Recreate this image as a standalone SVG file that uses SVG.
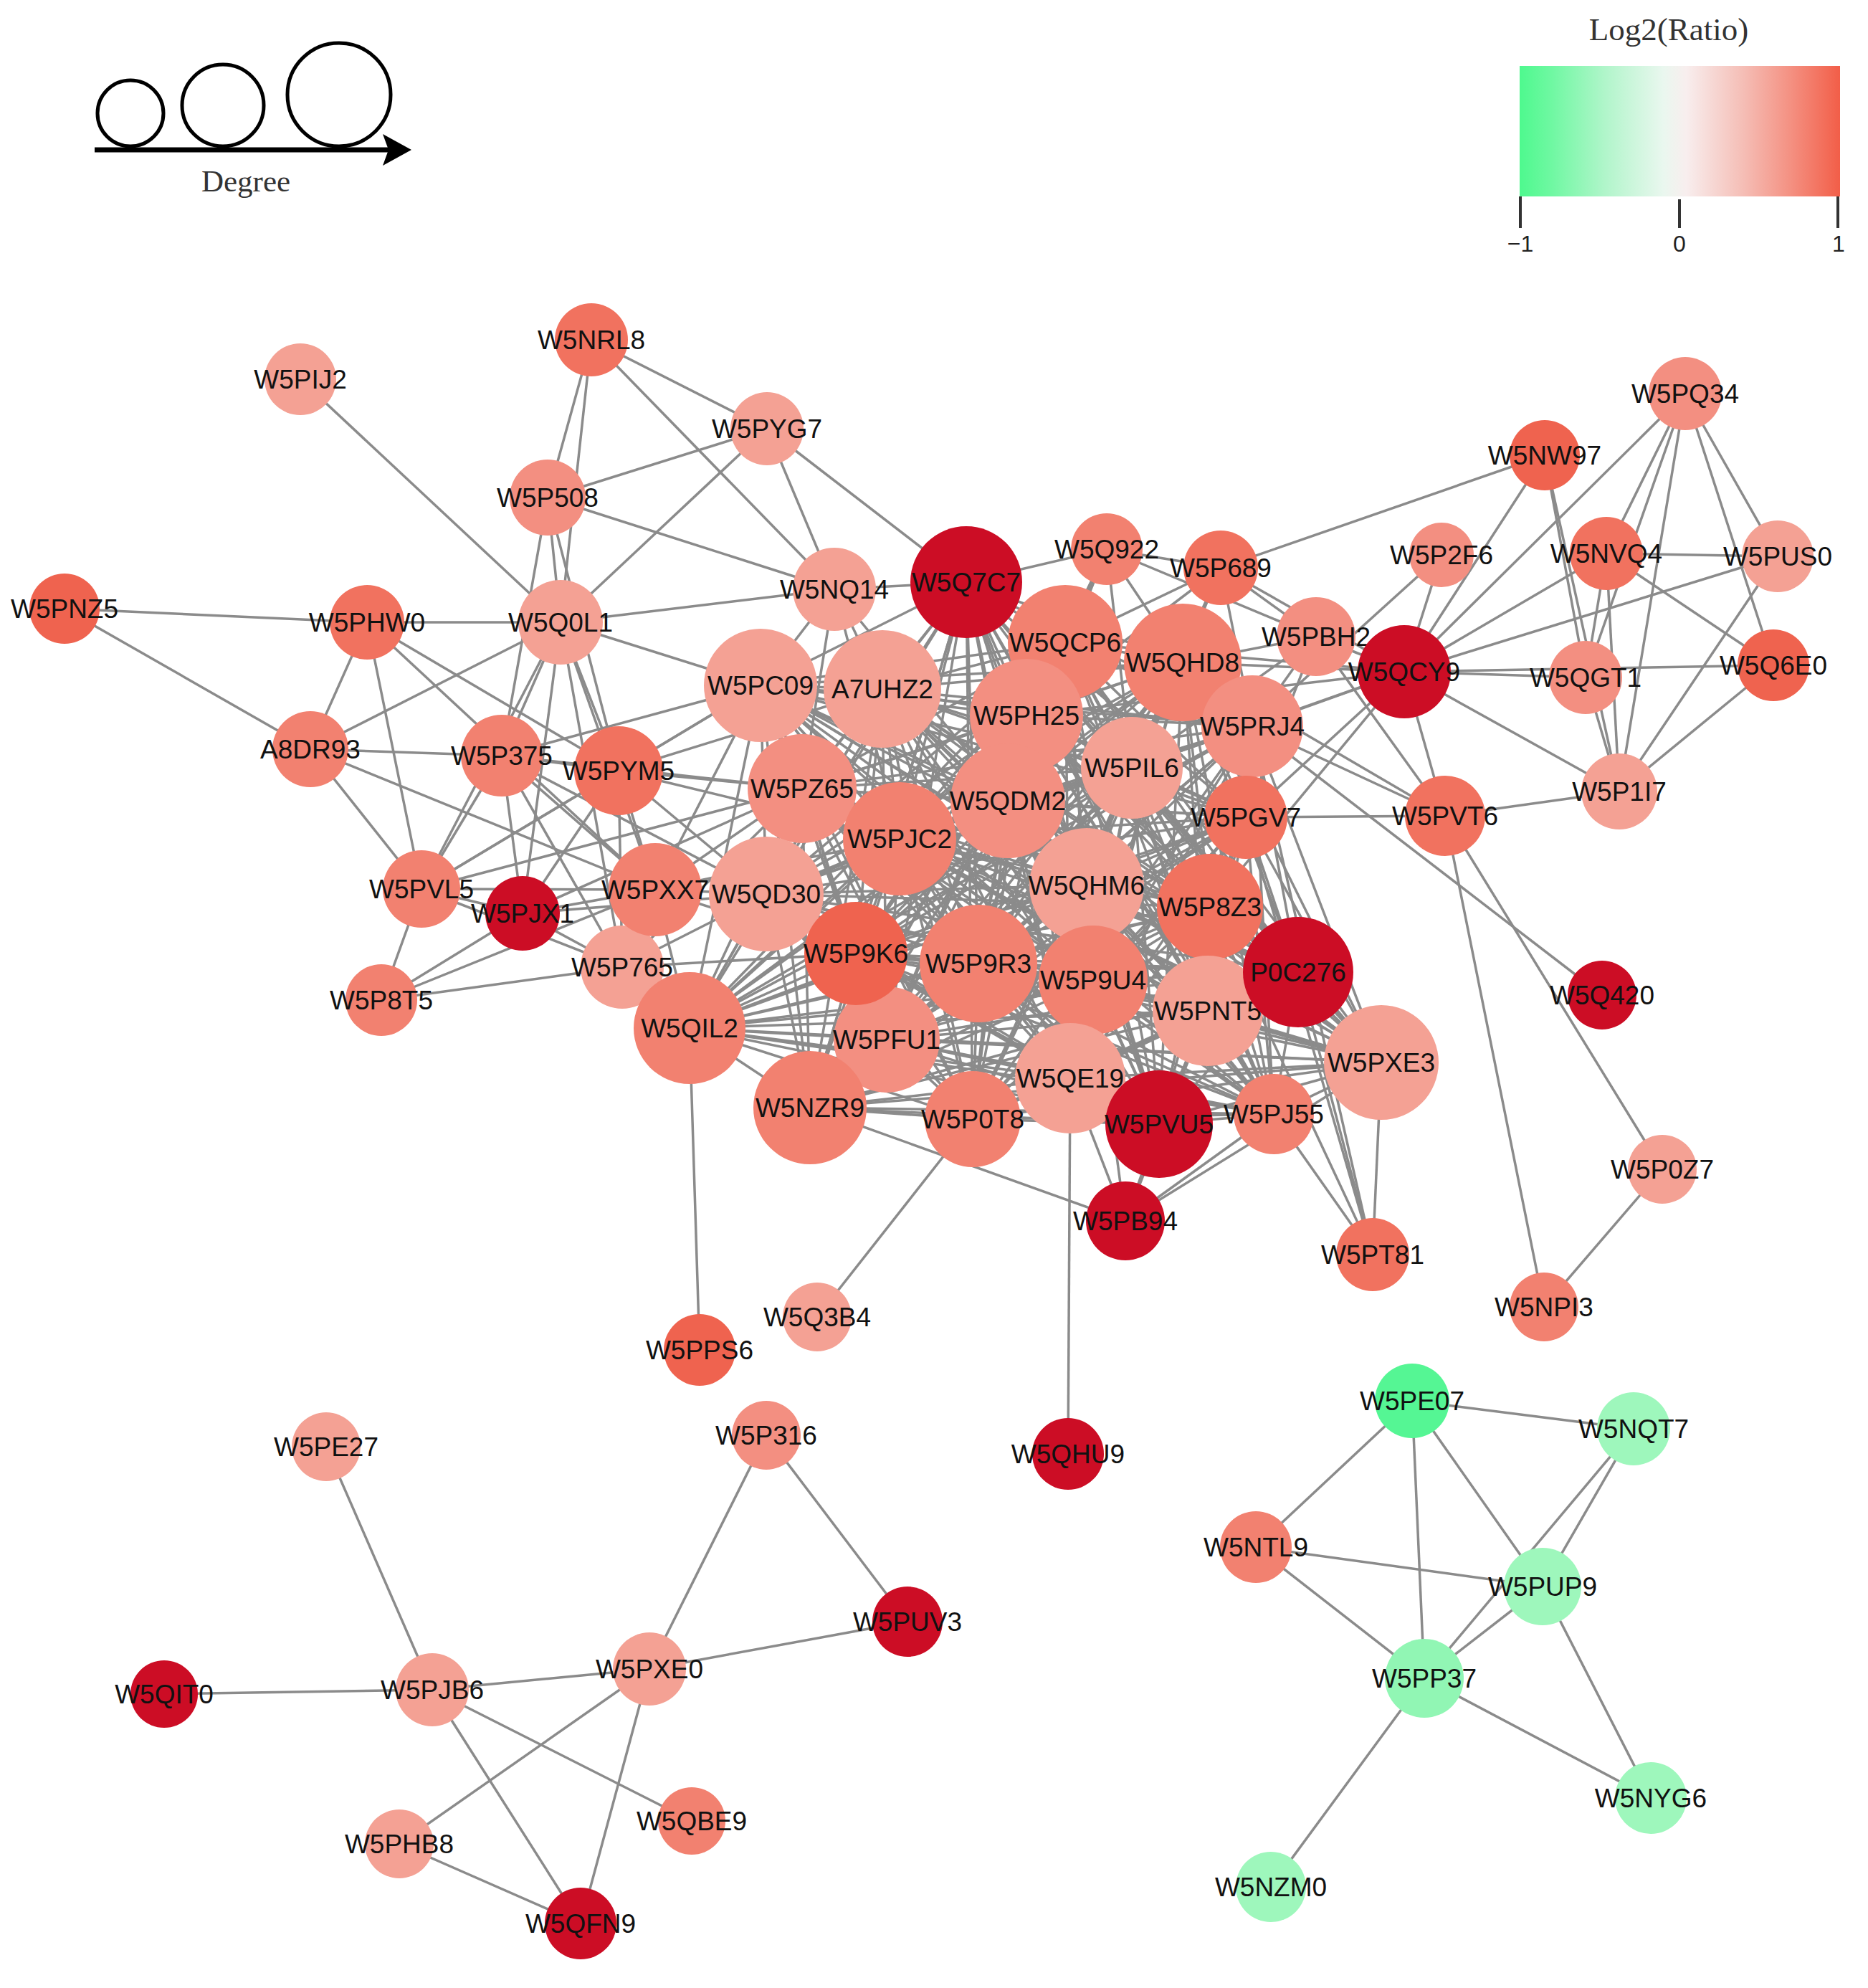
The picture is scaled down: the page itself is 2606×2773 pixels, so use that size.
<svg xmlns="http://www.w3.org/2000/svg" width="2606" height="2773" viewBox="0 0 2606 2773">
<style>
.e path{stroke:#8b8b8b;stroke-width:3.5;fill:none}
.n text{font-family:"Liberation Sans",Arial,sans-serif;font-size:37px;text-anchor:middle;fill:#111}
.dr{fill:#cc0d25}.ro{fill:#ef634f}.or{fill:#f1725f}.sa{fill:#f28170}.ls{fill:#f38f81}.lp{fill:#f4a194}
.g1{fill:#55f694}.g2{fill:#9ef7bc}.g3{fill:#91f6b4}
.serif{font-family:"Liberation Serif","Times New Roman",serif;fill:#333}
</style>
<defs>
<linearGradient id="lg" x1="0" y1="0" x2="1" y2="0">
<stop offset="0" stop-color="#4ef98e"/><stop offset="0.1" stop-color="#6ff8a2"/><stop offset="0.27" stop-color="#b2f5cb"/><stop offset="0.45" stop-color="#eaf7ef"/><stop offset="0.52" stop-color="#f8eeee"/><stop offset="0.7" stop-color="#f5bdb5"/><stop offset="0.85" stop-color="#f48f80"/><stop offset="1" stop-color="#f25e48"/>
</linearGradient>
<marker id="arr" viewBox="0 0 40 44" refX="14" refY="22" markerWidth="40" markerHeight="44" markerUnits="userSpaceOnUse" orient="auto"><path d="M0 0L40 22L0 44L8 22Z" fill="#000"/></marker>
</defs>
<rect width="2606" height="2773" fill="#fff"/>
<g id="legend-degree">
<circle cx="182" cy="158" r="46" fill="none" stroke="#000" stroke-width="5"/>
<circle cx="311" cy="147" r="57" fill="none" stroke="#000" stroke-width="5"/>
<circle cx="473" cy="132" r="72" fill="none" stroke="#000" stroke-width="5"/>
<line x1="132" y1="209" x2="548" y2="209" stroke="#000" stroke-width="7" marker-end="url(#arr)"/>
<text x="343" y="267" class="serif" font-size="43" text-anchor="middle">Degree</text>
</g>
<g id="legend-color">
<text x="2328" y="56" class="serif" font-size="45" text-anchor="middle">Log2(Ratio)</text>
<rect x="2120" y="92" width="447" height="182" fill="url(#lg)"/>
<g stroke="#333" stroke-width="4"><line x1="2121" y1="274" x2="2121" y2="318"/><line x1="2343" y1="278" x2="2343" y2="318"/><line x1="2564" y1="274" x2="2564" y2="318"/></g>
<g font-family="Liberation Sans,Arial,sans-serif" font-size="32" fill="#222" text-anchor="middle"><text x="2121" y="351">−1</text><text x="2343" y="351">0</text><text x="2565" y="351">1</text></g>
</g>
<g id="edges" class="e">
<path d="M1348 812L1486 896"/><path d="M1348 812L1650 924"/><path d="M1348 812L1061 956"/><path d="M1348 812L1231 961"/><path d="M1348 812L1432 998"/><path d="M1348 812L1747 1013"/><path d="M1348 812L1579 1071"/><path d="M1348 812L1119 1100"/><path d="M1348 812L1406 1117"/><path d="M1348 812L1738 1140"/><path d="M1348 812L1255 1170"/><path d="M1348 812L1069 1247"/><path d="M1348 812L1516 1235"/><path d="M1348 812L1688 1265"/><path d="M1348 812L1194 1330"/><path d="M1348 812L1365 1344"/><path d="M1348 812L1525 1367"/><path d="M1348 812L1811 1356"/><path d="M1348 812L1685 1410"/><path d="M1348 812L962 1434"/><path d="M1348 812L1237 1450"/><path d="M1348 812L1493 1504"/><path d="M1348 812L1927 1482"/><path d="M1348 812L1130 1545"/><path d="M1348 812L1357 1561"/><path d="M1348 812L1617 1568"/><path d="M1348 812L1777 1554"/>
<path d="M1486 896L1650 924"/><path d="M1486 896L1061 956"/><path d="M1486 896L1231 961"/><path d="M1486 896L1432 998"/><path d="M1486 896L1747 1013"/><path d="M1486 896L1579 1071"/><path d="M1486 896L1119 1100"/><path d="M1486 896L1406 1117"/><path d="M1486 896L1738 1140"/><path d="M1486 896L1255 1170"/><path d="M1486 896L1069 1247"/><path d="M1486 896L1516 1235"/><path d="M1486 896L1688 1265"/><path d="M1486 896L1194 1330"/><path d="M1486 896L1365 1344"/><path d="M1486 896L1525 1367"/><path d="M1486 896L1811 1356"/><path d="M1486 896L1685 1410"/><path d="M1486 896L962 1434"/><path d="M1486 896L1237 1450"/><path d="M1486 896L1493 1504"/><path d="M1486 896L1927 1482"/><path d="M1486 896L1130 1545"/><path d="M1486 896L1357 1561"/><path d="M1486 896L1617 1568"/><path d="M1486 896L1777 1554"/>
<path d="M1650 924L1061 956"/><path d="M1650 924L1231 961"/><path d="M1650 924L1432 998"/><path d="M1650 924L1747 1013"/><path d="M1650 924L1579 1071"/><path d="M1650 924L1119 1100"/><path d="M1650 924L1406 1117"/><path d="M1650 924L1738 1140"/><path d="M1650 924L1255 1170"/><path d="M1650 924L1069 1247"/><path d="M1650 924L1516 1235"/><path d="M1650 924L1688 1265"/><path d="M1650 924L1194 1330"/><path d="M1650 924L1365 1344"/><path d="M1650 924L1525 1367"/><path d="M1650 924L1811 1356"/><path d="M1650 924L1685 1410"/><path d="M1650 924L962 1434"/><path d="M1650 924L1237 1450"/><path d="M1650 924L1493 1504"/><path d="M1650 924L1927 1482"/><path d="M1650 924L1130 1545"/><path d="M1650 924L1357 1561"/><path d="M1650 924L1617 1568"/><path d="M1650 924L1777 1554"/>
<path d="M1061 956L1231 961"/><path d="M1061 956L1432 998"/><path d="M1061 956L1747 1013"/><path d="M1061 956L1579 1071"/><path d="M1061 956L1119 1100"/><path d="M1061 956L1406 1117"/><path d="M1061 956L1738 1140"/><path d="M1061 956L1255 1170"/><path d="M1061 956L1069 1247"/><path d="M1061 956L1516 1235"/><path d="M1061 956L1688 1265"/><path d="M1061 956L1194 1330"/><path d="M1061 956L1365 1344"/><path d="M1061 956L1525 1367"/><path d="M1061 956L1811 1356"/><path d="M1061 956L1685 1410"/><path d="M1061 956L962 1434"/><path d="M1061 956L1237 1450"/><path d="M1061 956L1493 1504"/><path d="M1061 956L1927 1482"/><path d="M1061 956L1130 1545"/><path d="M1061 956L1357 1561"/><path d="M1061 956L1617 1568"/><path d="M1061 956L1777 1554"/>
<path d="M1231 961L1432 998"/><path d="M1231 961L1747 1013"/><path d="M1231 961L1579 1071"/><path d="M1231 961L1119 1100"/><path d="M1231 961L1406 1117"/><path d="M1231 961L1738 1140"/><path d="M1231 961L1255 1170"/><path d="M1231 961L1069 1247"/><path d="M1231 961L1516 1235"/><path d="M1231 961L1688 1265"/><path d="M1231 961L1194 1330"/><path d="M1231 961L1365 1344"/><path d="M1231 961L1525 1367"/><path d="M1231 961L1811 1356"/><path d="M1231 961L1685 1410"/><path d="M1231 961L962 1434"/><path d="M1231 961L1237 1450"/><path d="M1231 961L1493 1504"/><path d="M1231 961L1927 1482"/><path d="M1231 961L1130 1545"/><path d="M1231 961L1357 1561"/><path d="M1231 961L1617 1568"/><path d="M1231 961L1777 1554"/>
<path d="M1432 998L1747 1013"/><path d="M1432 998L1579 1071"/><path d="M1432 998L1119 1100"/><path d="M1432 998L1406 1117"/><path d="M1432 998L1738 1140"/><path d="M1432 998L1255 1170"/><path d="M1432 998L1069 1247"/><path d="M1432 998L1516 1235"/><path d="M1432 998L1688 1265"/><path d="M1432 998L1194 1330"/><path d="M1432 998L1365 1344"/><path d="M1432 998L1525 1367"/><path d="M1432 998L1811 1356"/><path d="M1432 998L1685 1410"/><path d="M1432 998L962 1434"/><path d="M1432 998L1237 1450"/><path d="M1432 998L1493 1504"/><path d="M1432 998L1927 1482"/><path d="M1432 998L1130 1545"/><path d="M1432 998L1357 1561"/><path d="M1432 998L1617 1568"/><path d="M1432 998L1777 1554"/>
<path d="M1747 1013L1579 1071"/><path d="M1747 1013L1119 1100"/><path d="M1747 1013L1406 1117"/><path d="M1747 1013L1738 1140"/><path d="M1747 1013L1255 1170"/><path d="M1747 1013L1069 1247"/><path d="M1747 1013L1516 1235"/><path d="M1747 1013L1688 1265"/><path d="M1747 1013L1194 1330"/><path d="M1747 1013L1365 1344"/><path d="M1747 1013L1525 1367"/><path d="M1747 1013L1811 1356"/><path d="M1747 1013L1685 1410"/><path d="M1747 1013L962 1434"/><path d="M1747 1013L1237 1450"/><path d="M1747 1013L1493 1504"/><path d="M1747 1013L1927 1482"/><path d="M1747 1013L1130 1545"/><path d="M1747 1013L1357 1561"/><path d="M1747 1013L1617 1568"/><path d="M1747 1013L1777 1554"/>
<path d="M1579 1071L1119 1100"/><path d="M1579 1071L1406 1117"/><path d="M1579 1071L1738 1140"/><path d="M1579 1071L1255 1170"/><path d="M1579 1071L1069 1247"/><path d="M1579 1071L1516 1235"/><path d="M1579 1071L1688 1265"/><path d="M1579 1071L1194 1330"/><path d="M1579 1071L1365 1344"/><path d="M1579 1071L1525 1367"/><path d="M1579 1071L1811 1356"/><path d="M1579 1071L1685 1410"/><path d="M1579 1071L962 1434"/><path d="M1579 1071L1237 1450"/><path d="M1579 1071L1493 1504"/><path d="M1579 1071L1927 1482"/><path d="M1579 1071L1130 1545"/><path d="M1579 1071L1357 1561"/><path d="M1579 1071L1617 1568"/><path d="M1579 1071L1777 1554"/>
<path d="M1119 1100L1406 1117"/><path d="M1119 1100L1738 1140"/><path d="M1119 1100L1255 1170"/><path d="M1119 1100L1069 1247"/><path d="M1119 1100L1516 1235"/><path d="M1119 1100L1688 1265"/><path d="M1119 1100L1194 1330"/><path d="M1119 1100L1365 1344"/><path d="M1119 1100L1525 1367"/><path d="M1119 1100L1811 1356"/><path d="M1119 1100L1685 1410"/><path d="M1119 1100L962 1434"/><path d="M1119 1100L1237 1450"/><path d="M1119 1100L1493 1504"/><path d="M1119 1100L1927 1482"/><path d="M1119 1100L1130 1545"/><path d="M1119 1100L1357 1561"/><path d="M1119 1100L1617 1568"/><path d="M1119 1100L1777 1554"/>
<path d="M1406 1117L1738 1140"/><path d="M1406 1117L1255 1170"/><path d="M1406 1117L1069 1247"/><path d="M1406 1117L1516 1235"/><path d="M1406 1117L1688 1265"/><path d="M1406 1117L1194 1330"/><path d="M1406 1117L1365 1344"/><path d="M1406 1117L1525 1367"/><path d="M1406 1117L1811 1356"/><path d="M1406 1117L1685 1410"/><path d="M1406 1117L962 1434"/><path d="M1406 1117L1237 1450"/><path d="M1406 1117L1493 1504"/><path d="M1406 1117L1927 1482"/><path d="M1406 1117L1130 1545"/><path d="M1406 1117L1357 1561"/><path d="M1406 1117L1617 1568"/><path d="M1406 1117L1777 1554"/>
<path d="M1738 1140L1255 1170"/><path d="M1738 1140L1069 1247"/><path d="M1738 1140L1516 1235"/><path d="M1738 1140L1688 1265"/><path d="M1738 1140L1194 1330"/><path d="M1738 1140L1365 1344"/><path d="M1738 1140L1525 1367"/><path d="M1738 1140L1811 1356"/><path d="M1738 1140L1685 1410"/><path d="M1738 1140L962 1434"/><path d="M1738 1140L1237 1450"/><path d="M1738 1140L1493 1504"/><path d="M1738 1140L1927 1482"/><path d="M1738 1140L1130 1545"/><path d="M1738 1140L1357 1561"/><path d="M1738 1140L1617 1568"/><path d="M1738 1140L1777 1554"/>
<path d="M1255 1170L1069 1247"/><path d="M1255 1170L1516 1235"/><path d="M1255 1170L1688 1265"/><path d="M1255 1170L1194 1330"/><path d="M1255 1170L1365 1344"/><path d="M1255 1170L1525 1367"/><path d="M1255 1170L1811 1356"/><path d="M1255 1170L1685 1410"/><path d="M1255 1170L962 1434"/><path d="M1255 1170L1237 1450"/><path d="M1255 1170L1493 1504"/><path d="M1255 1170L1927 1482"/><path d="M1255 1170L1130 1545"/><path d="M1255 1170L1357 1561"/><path d="M1255 1170L1617 1568"/><path d="M1255 1170L1777 1554"/>
<path d="M1069 1247L1516 1235"/><path d="M1069 1247L1688 1265"/><path d="M1069 1247L1194 1330"/><path d="M1069 1247L1365 1344"/><path d="M1069 1247L1525 1367"/><path d="M1069 1247L1811 1356"/><path d="M1069 1247L1685 1410"/><path d="M1069 1247L962 1434"/><path d="M1069 1247L1237 1450"/><path d="M1069 1247L1493 1504"/><path d="M1069 1247L1927 1482"/><path d="M1069 1247L1130 1545"/><path d="M1069 1247L1357 1561"/><path d="M1069 1247L1617 1568"/><path d="M1069 1247L1777 1554"/>
<path d="M1516 1235L1688 1265"/><path d="M1516 1235L1194 1330"/><path d="M1516 1235L1365 1344"/><path d="M1516 1235L1525 1367"/><path d="M1516 1235L1811 1356"/><path d="M1516 1235L1685 1410"/><path d="M1516 1235L962 1434"/><path d="M1516 1235L1237 1450"/><path d="M1516 1235L1493 1504"/><path d="M1516 1235L1927 1482"/><path d="M1516 1235L1130 1545"/><path d="M1516 1235L1357 1561"/><path d="M1516 1235L1617 1568"/><path d="M1516 1235L1777 1554"/>
<path d="M1688 1265L1194 1330"/><path d="M1688 1265L1365 1344"/><path d="M1688 1265L1525 1367"/><path d="M1688 1265L1811 1356"/><path d="M1688 1265L1685 1410"/><path d="M1688 1265L962 1434"/><path d="M1688 1265L1237 1450"/><path d="M1688 1265L1493 1504"/><path d="M1688 1265L1927 1482"/><path d="M1688 1265L1130 1545"/><path d="M1688 1265L1357 1561"/><path d="M1688 1265L1617 1568"/><path d="M1688 1265L1777 1554"/>
<path d="M1194 1330L1365 1344"/><path d="M1194 1330L1525 1367"/><path d="M1194 1330L1811 1356"/><path d="M1194 1330L1685 1410"/><path d="M1194 1330L962 1434"/><path d="M1194 1330L1237 1450"/><path d="M1194 1330L1493 1504"/><path d="M1194 1330L1927 1482"/><path d="M1194 1330L1130 1545"/><path d="M1194 1330L1357 1561"/><path d="M1194 1330L1617 1568"/><path d="M1194 1330L1777 1554"/>
<path d="M1365 1344L1525 1367"/><path d="M1365 1344L1811 1356"/><path d="M1365 1344L1685 1410"/><path d="M1365 1344L962 1434"/><path d="M1365 1344L1237 1450"/><path d="M1365 1344L1493 1504"/><path d="M1365 1344L1927 1482"/><path d="M1365 1344L1130 1545"/><path d="M1365 1344L1357 1561"/><path d="M1365 1344L1617 1568"/><path d="M1365 1344L1777 1554"/>
<path d="M1525 1367L1811 1356"/><path d="M1525 1367L1685 1410"/><path d="M1525 1367L962 1434"/><path d="M1525 1367L1237 1450"/><path d="M1525 1367L1493 1504"/><path d="M1525 1367L1927 1482"/><path d="M1525 1367L1130 1545"/><path d="M1525 1367L1357 1561"/><path d="M1525 1367L1617 1568"/><path d="M1525 1367L1777 1554"/>
<path d="M1811 1356L1685 1410"/><path d="M1811 1356L962 1434"/><path d="M1811 1356L1237 1450"/><path d="M1811 1356L1493 1504"/><path d="M1811 1356L1927 1482"/><path d="M1811 1356L1130 1545"/><path d="M1811 1356L1357 1561"/><path d="M1811 1356L1617 1568"/><path d="M1811 1356L1777 1554"/>
<path d="M1685 1410L962 1434"/><path d="M1685 1410L1237 1450"/><path d="M1685 1410L1493 1504"/><path d="M1685 1410L1927 1482"/><path d="M1685 1410L1130 1545"/><path d="M1685 1410L1357 1561"/><path d="M1685 1410L1617 1568"/><path d="M1685 1410L1777 1554"/>
<path d="M962 1434L1237 1450"/><path d="M962 1434L1493 1504"/><path d="M962 1434L1927 1482"/><path d="M962 1434L1130 1545"/><path d="M962 1434L1357 1561"/><path d="M962 1434L1617 1568"/><path d="M962 1434L1777 1554"/>
<path d="M1237 1450L1493 1504"/><path d="M1237 1450L1927 1482"/><path d="M1237 1450L1130 1545"/><path d="M1237 1450L1357 1561"/><path d="M1237 1450L1617 1568"/><path d="M1237 1450L1777 1554"/>
<path d="M1493 1504L1927 1482"/><path d="M1493 1504L1130 1545"/><path d="M1493 1504L1357 1561"/><path d="M1493 1504L1617 1568"/><path d="M1493 1504L1777 1554"/>
<path d="M1927 1482L1130 1545"/><path d="M1927 1482L1357 1561"/><path d="M1927 1482L1617 1568"/><path d="M1927 1482L1777 1554"/>
<path d="M1130 1545L1357 1561"/><path d="M1130 1545L1617 1568"/><path d="M1130 1545L1777 1554"/>
<path d="M1357 1561L1617 1568"/><path d="M1357 1561L1777 1554"/>
<path d="M1617 1568L1777 1554"/>
<path d="M419 529L782 868"/><path d="M825 474L764 694"/><path d="M825 474L782 868"/><path d="M825 474L1070 598"/><path d="M825 474L1164 822"/>
<path d="M1070 598L764 694"/><path d="M1070 598L782 868"/><path d="M1070 598L1164 822"/><path d="M1070 598L1348 812"/>
<path d="M764 694L1164 822"/><path d="M764 694L782 868"/><path d="M764 694L700 1054"/><path d="M764 694L863 1075"/>
<path d="M90 849L512 868"/><path d="M90 849L433 1045"/>
<path d="M512 868L782 868"/><path d="M512 868L433 1045"/><path d="M512 868L588 1240"/><path d="M512 868L914 1241"/><path d="M512 868L863 1075"/>
<path d="M433 1045L782 868"/><path d="M433 1045L700 1054"/><path d="M433 1045L588 1240"/><path d="M433 1045L914 1241"/>
<path d="M782 868L1164 822"/><path d="M782 868L1061 956"/><path d="M782 868L700 1054"/><path d="M782 868L863 1075"/><path d="M782 868L588 1240"/><path d="M782 868L729 1274"/><path d="M782 868L914 1241"/><path d="M782 868L868 1349"/>
<path d="M700 1054L863 1075"/><path d="M700 1054L588 1240"/><path d="M700 1054L729 1274"/><path d="M700 1054L914 1241"/><path d="M700 1054L868 1349"/><path d="M700 1054L1069 1247"/><path d="M700 1054L1119 1100"/><path d="M700 1054L1061 956"/>
<path d="M863 1075L588 1240"/><path d="M863 1075L729 1274"/><path d="M863 1075L914 1241"/><path d="M863 1075L1061 956"/><path d="M863 1075L1119 1100"/><path d="M863 1075L1069 1247"/><path d="M863 1075L868 1349"/><path d="M863 1075L1231 961"/><path d="M863 1075L1255 1170"/>
<path d="M588 1240L729 1274"/><path d="M588 1240L532 1395"/><path d="M588 1240L914 1241"/><path d="M588 1240L868 1349"/><path d="M588 1240L1061 956"/><path d="M588 1240L1119 1100"/>
<path d="M532 1395L729 1274"/><path d="M532 1395L868 1349"/><path d="M532 1395L914 1241"/>
<path d="M729 1274L914 1241"/><path d="M729 1274L868 1349"/><path d="M729 1274L1069 1247"/><path d="M729 1274L1119 1100"/>
<path d="M914 1241L868 1349"/><path d="M914 1241L1069 1247"/><path d="M914 1241L1119 1100"/><path d="M914 1241L1255 1170"/><path d="M914 1241L1061 956"/><path d="M914 1241L1194 1330"/><path d="M914 1241L962 1434"/>
<path d="M868 1349L1069 1247"/><path d="M868 1349L962 1434"/><path d="M868 1349L1194 1330"/><path d="M868 1349L1119 1100"/>
<path d="M1164 822L1348 812"/><path d="M1164 822L1061 956"/><path d="M1164 822L1231 961"/><path d="M1164 822L1119 1100"/><path d="M1164 822L1255 1170"/><path d="M1164 822L1406 1117"/>
<path d="M1544 766L1348 812"/><path d="M1544 766L1486 896"/><path d="M1544 766L1650 924"/><path d="M1544 766L1432 998"/><path d="M1544 766L1703 792"/><path d="M1544 766L1836 888"/><path d="M1544 766L1406 1117"/><path d="M1544 766L1579 1071"/>
<path d="M1703 792L1650 924"/><path d="M1703 792L1486 896"/><path d="M1703 792L1747 1013"/><path d="M1703 792L1836 888"/><path d="M1703 792L1959 937"/><path d="M1703 792L1579 1071"/><path d="M1703 792L2155 635"/><path d="M1703 792L1432 998"/>
<path d="M1836 888L1650 924"/><path d="M1836 888L1747 1013"/><path d="M1836 888L1959 937"/><path d="M1836 888L1738 1140"/><path d="M1836 888L1579 1071"/><path d="M1836 888L2016 1138"/>
<path d="M1959 937L1650 924"/><path d="M1959 937L1747 1013"/><path d="M1959 937L1738 1140"/><path d="M1959 937L1432 998"/><path d="M1959 937L1579 1071"/><path d="M1959 937L1688 1265"/><path d="M1959 937L1486 896"/><path d="M1959 937L2155 635"/><path d="M1959 937L2351 549"/><path d="M1959 937L2241 772"/><path d="M1959 937L2480 776"/><path d="M1959 937L2212 945"/><path d="M1959 937L2474 928"/><path d="M1959 937L2259 1104"/><path d="M1959 937L2016 1138"/><path d="M1959 937L2011 774"/>
<path d="M2011 774L1747 1013"/><path d="M2155 635L2212 945"/><path d="M2155 635L2259 1104"/>
<path d="M2351 549L2241 772"/><path d="M2351 549L2212 945"/><path d="M2351 549L2259 1104"/><path d="M2351 549L2480 776"/><path d="M2351 549L2474 928"/>
<path d="M2241 772L2480 776"/><path d="M2241 772L2212 945"/><path d="M2241 772L2259 1104"/><path d="M2241 772L2474 928"/>
<path d="M2480 776L2259 1104"/><path d="M2212 945L2259 1104"/><path d="M2474 928L2259 1104"/><path d="M2259 1104L2016 1138"/>
<path d="M2016 1138L1738 1140"/><path d="M2016 1138L1747 1013"/><path d="M2016 1138L1650 924"/><path d="M2016 1138L2154 1823"/><path d="M2016 1138L2319 1631"/>
<path d="M1747 1013L2235 1388"/><path d="M2319 1631L2154 1823"/>
<path d="M1915 1750L1738 1140"/><path d="M1915 1750L1688 1265"/><path d="M1915 1750L1747 1013"/><path d="M1915 1750L1777 1554"/><path d="M1915 1750L1927 1482"/><path d="M1915 1750L1811 1356"/>
<path d="M1570 1703L1130 1545"/><path d="M1570 1703L1493 1504"/><path d="M1570 1703L1617 1568"/><path d="M1570 1703L1777 1554"/><path d="M1570 1703L1927 1482"/><path d="M1570 1703L1685 1410"/><path d="M1570 1703L1525 1367"/>
<path d="M962 1434L976 1883"/><path d="M1493 1504L1490 2028"/><path d="M1357 1561L1140 1837"/>
<path d="M1970 1954L2279 1993"/><path d="M1970 1954L1752 2158"/><path d="M1970 1954L1987 2341"/><path d="M1970 1954L2152 2213"/>
<path d="M2279 1993L2152 2213"/><path d="M2279 1993L1987 2341"/><path d="M1752 2158L2152 2213"/><path d="M1752 2158L1987 2341"/>
<path d="M2152 2213L1987 2341"/><path d="M2152 2213L2303 2508"/><path d="M1987 2341L2303 2508"/><path d="M1987 2341L1773 2632"/>
<path d="M455 2018L603 2357"/><path d="M1069 2002L906 2328"/><path d="M1069 2002L1266 2262"/><path d="M1266 2262L906 2328"/>
<path d="M229 2363L603 2357"/><path d="M603 2357L906 2328"/><path d="M603 2357L965 2540"/><path d="M603 2357L810 2683"/>
<path d="M906 2328L557 2572"/><path d="M906 2328L810 2683"/><path d="M557 2572L810 2683"/>
</g>
<g id="nodes" class="n">
<g id="W5PIJ2"><circle cx="419" cy="529" r="50" class="lp"/><text x="419" y="542">W5PIJ2</text></g>
<g id="W5NRL8"><circle cx="825" cy="474" r="51" class="or"/><text x="825" y="487">W5NRL8</text></g>
<g id="W5PYG7"><circle cx="1070" cy="598" r="51" class="lp"/><text x="1070" y="611">W5PYG7</text></g>
<g id="W5P508"><circle cx="764" cy="694" r="53" class="ls"/><text x="764" y="707">W5P508</text></g>
<g id="W5PNZ5"><circle cx="90" cy="849" r="49" class="ro"/><text x="90" y="862">W5PNZ5</text></g>
<g id="W5PHW0"><circle cx="512" cy="868" r="52" class="or"/><text x="512" y="881">W5PHW0</text></g>
<g id="W5Q0L1"><circle cx="782" cy="868" r="59" class="lp"/><text x="782" y="881">W5Q0L1</text></g>
<g id="A8DR93"><circle cx="433" cy="1045" r="53" class="sa"/><text x="433" y="1058">A8DR93</text></g>
<g id="W5P375"><circle cx="700" cy="1054" r="57" class="sa"/><text x="700" y="1067">W5P375</text></g>
<g id="W5PYM5"><circle cx="863" cy="1075" r="62" class="or"/><text x="863" y="1088">W5PYM5</text></g>
<g id="W5PVL5"><circle cx="588" cy="1240" r="54" class="sa"/><text x="588" y="1253">W5PVL5</text></g>
<g id="W5PJX1"><circle cx="729" cy="1274" r="52" class="dr"/><text x="729" y="1287">W5PJX1</text></g>
<g id="W5P8T5"><circle cx="532" cy="1395" r="50" class="sa"/><text x="532" y="1408">W5P8T5</text></g>
<g id="W5P765"><circle cx="868" cy="1349" r="58" class="lp"/><text x="868" y="1362">W5P765</text></g>
<g id="W5PXX7"><circle cx="914" cy="1241" r="65" class="sa"/><text x="914" y="1254">W5PXX7</text></g>
<g id="W5NQ14"><circle cx="1164" cy="822" r="58" class="lp"/><text x="1164" y="835">W5NQ14</text></g>
<g id="W5Q922"><circle cx="1544" cy="766" r="50" class="sa"/><text x="1544" y="779">W5Q922</text></g>
<g id="W5P689"><circle cx="1703" cy="792" r="52" class="or"/><text x="1703" y="805">W5P689</text></g>
<g id="W5PC09"><circle cx="1061" cy="956" r="79" class="lp"/><text x="1061" y="969">W5PC09</text></g>
<g id="A7UHZ2"><circle cx="1231" cy="961" r="82" class="lp"/><text x="1231" y="974">A7UHZ2</text></g>
<g id="W5QCP6"><circle cx="1486" cy="896" r="80" class="sa"/><text x="1486" y="909">W5QCP6</text></g>
<g id="W5Q7C7"><circle cx="1348" cy="812" r="78" class="dr"/><text x="1348" y="825">W5Q7C7</text></g>
<g id="W5PH25"><circle cx="1432" cy="998" r="79" class="ls"/><text x="1432" y="1011">W5PH25</text></g>
<g id="W5QHD8"><circle cx="1650" cy="924" r="82" class="sa"/><text x="1650" y="937">W5QHD8</text></g>
<g id="W5PBH2"><circle cx="1836" cy="888" r="55" class="ls"/><text x="1836" y="901">W5PBH2</text></g>
<g id="W5PRJ4"><circle cx="1747" cy="1013" r="71" class="ls"/><text x="1747" y="1026">W5PRJ4</text></g>
<g id="W5QCY9"><circle cx="1959" cy="937" r="65" class="dr"/><text x="1959" y="950">W5QCY9</text></g>
<g id="W5PZ65"><circle cx="1119" cy="1100" r="76" class="ls"/><text x="1119" y="1113">W5PZ65</text></g>
<g id="W5PJC2"><circle cx="1255" cy="1170" r="79" class="sa"/><text x="1255" y="1183">W5PJC2</text></g>
<g id="W5QDM2"><circle cx="1406" cy="1117" r="80" class="ls"/><text x="1406" y="1130">W5QDM2</text></g>
<g id="W5PIL6"><circle cx="1579" cy="1071" r="71" class="lp"/><text x="1579" y="1084">W5PIL6</text></g>
<g id="W5PGV7"><circle cx="1738" cy="1140" r="58" class="or"/><text x="1738" y="1153">W5PGV7</text></g>
<g id="W5QD30"><circle cx="1069" cy="1247" r="80" class="lp"/><text x="1069" y="1260">W5QD30</text></g>
<g id="W5QHM6"><circle cx="1516" cy="1235" r="80" class="lp"/><text x="1516" y="1248">W5QHM6</text></g>
<g id="W5P8Z3"><circle cx="1688" cy="1265" r="74" class="or"/><text x="1688" y="1278">W5P8Z3</text></g>
<g id="W5PFU1"><circle cx="1237" cy="1450" r="74" class="ls"/><text x="1237" y="1463">W5PFU1</text></g>
<g id="W5P9K6"><circle cx="1194" cy="1330" r="72" class="ro"/><text x="1194" y="1343">W5P9K6</text></g>
<g id="W5P9R3"><circle cx="1365" cy="1344" r="82" class="sa"/><text x="1365" y="1357">W5P9R3</text></g>
<g id="W5P9U4"><circle cx="1525" cy="1367" r="76" class="sa"/><text x="1525" y="1380">W5P9U4</text></g>
<g id="W5PNT5"><circle cx="1685" cy="1410" r="77" class="lp"/><text x="1685" y="1423">W5PNT5</text></g>
<g id="P0C276"><circle cx="1811" cy="1356" r="77" class="dr"/><text x="1811" y="1369">P0C276</text></g>
<g id="W5QIL2"><circle cx="962" cy="1434" r="78" class="sa"/><text x="962" y="1447">W5QIL2</text></g>
<g id="W5NZR9"><circle cx="1130" cy="1545" r="79" class="sa"/><text x="1130" y="1558">W5NZR9</text></g>
<g id="W5P0T8"><circle cx="1357" cy="1561" r="67" class="sa"/><text x="1357" y="1574">W5P0T8</text></g>
<g id="W5QE19"><circle cx="1493" cy="1504" r="77" class="lp"/><text x="1493" y="1517">W5QE19</text></g>
<g id="W5PXE3"><circle cx="1927" cy="1482" r="80" class="lp"/><text x="1927" y="1495">W5PXE3</text></g>
<g id="W5PJ55"><circle cx="1777" cy="1554" r="56" class="sa"/><text x="1777" y="1567">W5PJ55</text></g>
<g id="W5PVU5"><circle cx="1617" cy="1568" r="75" class="dr"/><text x="1617" y="1581">W5PVU5</text></g>
<g id="W5PB94"><circle cx="1570" cy="1703" r="55" class="dr"/><text x="1570" y="1716">W5PB94</text></g>
<g id="W5PT81"><circle cx="1915" cy="1750" r="51" class="or"/><text x="1915" y="1763">W5PT81</text></g>
<g id="W5Q3B4"><circle cx="1140" cy="1837" r="48" class="lp"/><text x="1140" y="1850">W5Q3B4</text></g>
<g id="W5PPS6"><circle cx="976" cy="1883" r="50" class="ro"/><text x="976" y="1896">W5PPS6</text></g>
<g id="W5QHU9"><circle cx="1490" cy="2028" r="50" class="dr"/><text x="1490" y="2041">W5QHU9</text></g>
<g id="W5PQ34"><circle cx="2351" cy="549" r="51" class="ls"/><text x="2351" y="562">W5PQ34</text></g>
<g id="W5NW97"><circle cx="2155" cy="635" r="49" class="ro"/><text x="2155" y="648">W5NW97</text></g>
<g id="W5P2F6"><circle cx="2011" cy="774" r="45" class="ls"/><text x="2011" y="787">W5P2F6</text></g>
<g id="W5NVQ4"><circle cx="2241" cy="772" r="51" class="or"/><text x="2241" y="785">W5NVQ4</text></g>
<g id="W5PUS0"><circle cx="2480" cy="776" r="50" class="lp"/><text x="2480" y="789">W5PUS0</text></g>
<g id="W5QGT1"><circle cx="2212" cy="945" r="51" class="ls"/><text x="2212" y="958">W5QGT1</text></g>
<g id="W5Q6E0"><circle cx="2474" cy="928" r="50" class="ro"/><text x="2474" y="941">W5Q6E0</text></g>
<g id="W5P1I7"><circle cx="2259" cy="1104" r="53" class="lp"/><text x="2259" y="1117">W5P1I7</text></g>
<g id="W5PVT6"><circle cx="2016" cy="1138" r="56" class="or"/><text x="2016" y="1151">W5PVT6</text></g>
<g id="W5Q420"><circle cx="2235" cy="1388" r="48" class="dr"/><text x="2235" y="1401">W5Q420</text></g>
<g id="W5P0Z7"><circle cx="2319" cy="1631" r="48" class="lp"/><text x="2319" y="1644">W5P0Z7</text></g>
<g id="W5NPI3"><circle cx="2154" cy="1823" r="48" class="sa"/><text x="2154" y="1836">W5NPI3</text></g>
<g id="W5PE07"><circle cx="1970" cy="1954" r="52" class="g1"/><text x="1970" y="1967">W5PE07</text></g>
<g id="W5NQT7"><circle cx="2279" cy="1993" r="51" class="g2"/><text x="2279" y="2006">W5NQT7</text></g>
<g id="W5NTL9"><circle cx="1752" cy="2158" r="50" class="sa"/><text x="1752" y="2171">W5NTL9</text></g>
<g id="W5PUP9"><circle cx="2152" cy="2213" r="54" class="g2"/><text x="2152" y="2226">W5PUP9</text></g>
<g id="W5PP37"><circle cx="1987" cy="2341" r="55" class="g3"/><text x="1987" y="2354">W5PP37</text></g>
<g id="W5NYG6"><circle cx="2303" cy="2508" r="50" class="g2"/><text x="2303" y="2521">W5NYG6</text></g>
<g id="W5NZM0"><circle cx="1773" cy="2632" r="49" class="g2"/><text x="1773" y="2645">W5NZM0</text></g>
<g id="W5PE27"><circle cx="455" cy="2018" r="48" class="lp"/><text x="455" y="2031">W5PE27</text></g>
<g id="W5P316"><circle cx="1069" cy="2002" r="48" class="ls"/><text x="1069" y="2015">W5P316</text></g>
<g id="W5PUV3"><circle cx="1266" cy="2262" r="49" class="dr"/><text x="1266" y="2275">W5PUV3</text></g>
<g id="W5QIT0"><circle cx="229" cy="2363" r="47" class="dr"/><text x="229" y="2376">W5QIT0</text></g>
<g id="W5PJB6"><circle cx="603" cy="2357" r="51" class="lp"/><text x="603" y="2370">W5PJB6</text></g>
<g id="W5PXE0"><circle cx="906" cy="2328" r="51" class="lp"/><text x="906" y="2341">W5PXE0</text></g>
<g id="W5QBE9"><circle cx="965" cy="2540" r="47" class="sa"/><text x="965" y="2553">W5QBE9</text></g>
<g id="W5PHB8"><circle cx="557" cy="2572" r="48" class="lp"/><text x="557" y="2585">W5PHB8</text></g>
<g id="W5QFN9"><circle cx="810" cy="2683" r="50" class="dr"/><text x="810" y="2696">W5QFN9</text></g>
</g>
</svg>
